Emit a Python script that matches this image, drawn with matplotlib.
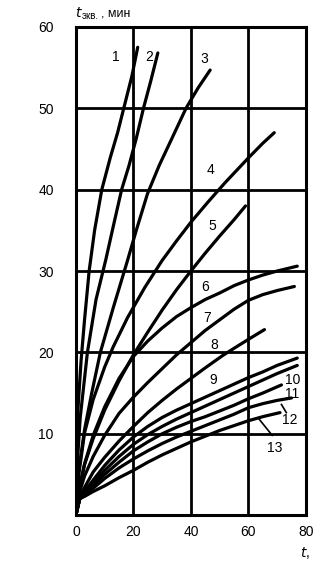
import matplotlib.pyplot as plt

plt.rcParams['font.family'] = ['Liberation Sans', 'DejaVu Sans']

# values (t, min -> t_equiv, min)
t1 = [0, 0.7, 1.8, 3, 4.6, 6.5, 9, 12, 14.5, 17, 19.5, 21.5]
y1 = [0, 13, 19, 24, 30, 35, 40, 44, 47, 50.5, 54, 57.5]
t2 = [0, 0.5, 1.5, 4, 7, 10.4, 13, 15.9, 18.5, 21, 23.5, 26, 28.5]
y2 = [0, 6.5, 12, 20, 26.5, 31.4, 35.5, 40, 43, 46.3, 50, 53.3, 56.8]
t3 = [0, 1, 3, 5.5, 8.5, 13, 17.7, 21, 24.9, 29, 33, 38.3, 42.5, 46.7]
y3 = [0, 5.5, 10.5, 15, 20, 25.5, 31, 35, 39.5, 43, 46, 50, 52.5, 54.7]
t4 = [0, 1, 3, 6, 10, 13, 18, 24, 30, 35, 40, 46, 52, 60, 65, 69]
y4 = [0, 5, 10.1, 14.2, 18.2, 20.7, 24.3, 28, 31.3, 33.7, 36, 38.5, 40.9, 43.9, 45.7, 47]
t5 = [0, 1, 3, 6, 10, 15, 20, 25, 30, 35, 40, 45, 50, 55, 59]
y5 = [0, 3, 6.2, 9.4, 12.9, 16.5, 19.7, 22.5, 25.2, 27.7, 30, 32.2, 34.3, 36.3, 38]
t6 = [0, 1, 3, 6, 10, 15, 20, 25, 30, 35, 40, 45, 50, 55, 60, 65, 70, 77]
y6 = [0, 3, 6.3, 9.8, 13.3, 16.8, 19.5, 21.4, 23, 24.4, 25.5, 26.5, 27.3, 28.2, 28.9, 29.5, 30, 30.6]
t7 = [0, 1, 3, 6, 10, 15, 20, 25, 30, 35, 40, 45, 50, 55, 60, 65, 70, 76]
y7 = [0, 2.5, 4.8, 7.2, 9.8, 12.5, 14.5, 16.3, 18, 19.7, 21.2, 22.7, 24, 25.3, 26.4, 27.1, 27.6, 28.1]
t8 = [0, 1, 3, 6, 10, 15, 20, 25, 30, 35, 40, 45, 51, 55, 60, 65.6]
y8 = [0, 2, 3.4, 5.3, 7.1, 9.1, 10.9, 12.6, 14.1, 15.5, 16.8, 18.1, 19.6, 20.5, 21.6, 22.8]
t9 = [0, 1.3, 3, 6, 10, 15, 20, 25, 30, 35, 40, 45, 50, 55, 60, 65, 70, 77]
y9 = [0, 2, 2.9, 4.3, 6.1, 8, 9.6, 10.9, 12, 12.9, 13.7, 14.5, 15.3, 16.1, 16.9, 17.6, 18.4, 19.3]
t10 = [0, 1.3, 3, 6, 10, 15, 20, 25, 30, 35, 40, 45, 50, 55, 60, 65, 70, 77]
y10 = [0, 2, 2.7, 3.9, 5.5, 7.2, 8.7, 9.9, 10.9, 11.8, 12.6, 13.4, 14.2, 15, 15.8, 16.6, 17.4, 18.4]
t11 = [0, 1.3, 3, 6, 10, 15, 20, 25, 30, 35, 40, 45, 50, 55, 60, 65, 71.5]
y11 = [0, 2, 2.6, 3.6, 5, 6.5, 7.9, 9, 10, 10.8, 11.5, 12.1, 12.8, 13.5, 14.3, 15, 16]
t12 = [0, 1.3, 3, 6, 10, 15, 20, 25, 30, 35, 40, 45, 50, 55, 60, 65, 70, 75]
y12 = [0, 2, 2.5, 3.3, 4.5, 5.8, 6.9, 7.9, 8.8, 9.6, 10.3, 11, 11.7, 12.4, 13.2, 13.7, 14.1, 14.4]
t13 = [0, 1.3, 3, 6, 10, 15, 20, 25, 30, 35, 40, 45, 50, 55, 60, 65, 71]
y13 = [0, 2, 2.3, 2.9, 3.6, 4.6, 5.5, 6.5, 7.4, 8.2, 9, 9.7, 10.4, 11, 11.6, 12.1, 12.6]

curves = [(t1, y1), (t2, y2), (t3, y3), (t4, y4), (t5, y5), (t6, y6), (t7, y7),
          (t8, y8), (t9, y9), (t10, y10), (t11, y11), (t12, y12), (t13, y13)]

label_text = ['1', '2', '3', '4', '5', '6', '7', '8', '9', '10', '11', '12', '13']
label_t = [14, 25.5, 44.6, 46.9, 47.5, 45, 45.6, 48.2, 47.6, 75.3, 75.3, 74.3, 69.2]
label_y = [56.3, 56.3, 56, 42.4, 35.5, 28, 24.2, 20.9, 16.6, 16.6, 14.9, 11.7, 8.2]

x_ticks = [0, 20, 40, 60, 80]
y_ticks = [10, 20, 30, 40, 50, 60]

fig = plt.figure(figsize=(3.15, 5.73), dpi=100)
ax = fig.add_axes([0.241, 0.101, 0.730, 0.852])

for t, y in curves:
    ax.plot(t, y, color='black', lw=2.3, solid_capstyle='round')

for s, x, y in zip(label_text, label_t, label_y):
    ax.text(x, y, s, fontsize=10, ha='center', va='center')

# leader lines for 12 and 13
ax.plot([71.5, 73.2], [13.6, 12.6], color='black', lw=1.2)
ax.plot([63.5, 68.3], [11.9, 9.8], color='black', lw=1.2)

ax.set_xlim(0, 80)
ax.set_ylim(0, 60)
ax.set_xticks(x_ticks)
ax.set_yticks(y_ticks)
ax.grid(True, color='black', lw=2)
ax.tick_params(length=0, labelsize=10)
ax.tick_params(axis='x', pad=7)
ax.tick_params(axis='y', pad=16)
for sp in ax.spines.values():
    sp.set_linewidth(2.2)

fig.text(0.238, 0.978, r'$t$', fontsize=10, ha='left', va='center')
fig.text(0.258, 0.972, 'экв.', fontsize=7, ha='left', va='center')
fig.text(0.322, 0.977, ', мин', fontsize=9, ha='left', va='center')
fig.text(0.952, 0.035, r'$t$,', fontsize=10, ha='left', va='center')

fig.savefig('out.png', dpi=100)
